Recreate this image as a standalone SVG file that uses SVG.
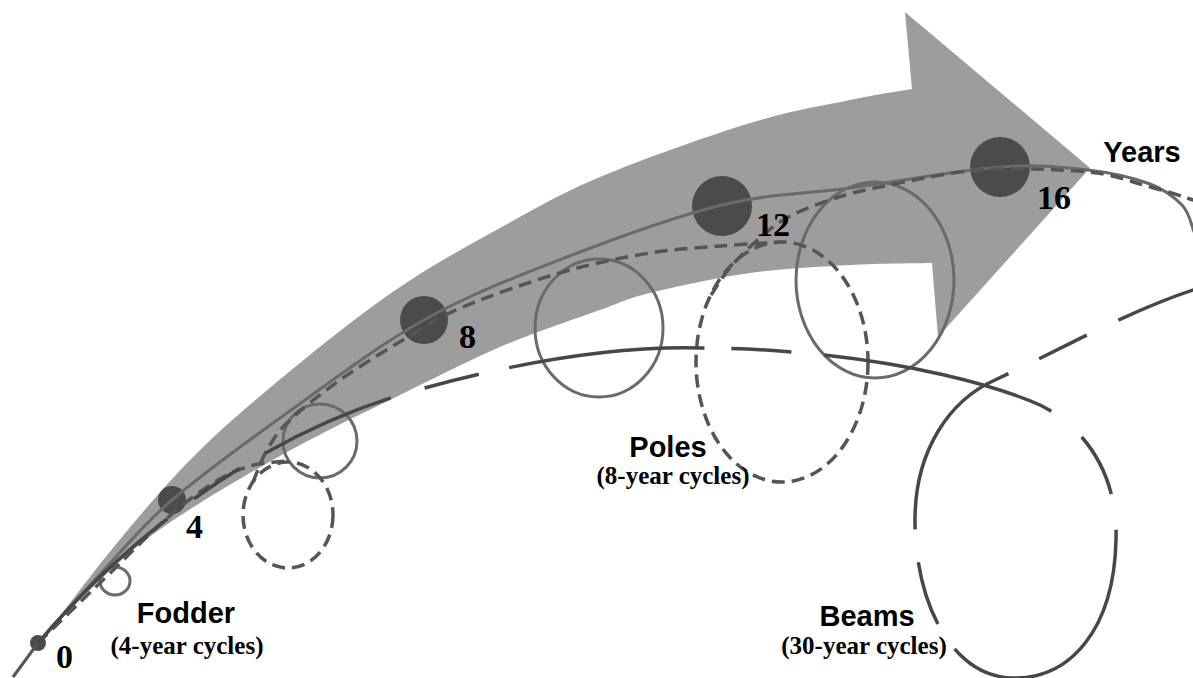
<svg xmlns="http://www.w3.org/2000/svg" width="1193" height="678" viewBox="0 0 1193 678">
<style>
.arrow{fill:#9d9d9d;stroke:none}
.dot{fill:#4b4b4b}
.fod{fill:none;stroke:#6a6a6a;stroke-width:3}
.pol{fill:none;stroke:#555;stroke-width:3.5;stroke-dasharray:13 7}
.bea{fill:none;stroke:#474747;stroke-width:3.5}
.num{font-family:"Liberation Serif","Times New Roman",serif;font-weight:bold;font-size:34px;fill:#000}
.lab{font-family:"Liberation Sans",Arial,sans-serif;font-weight:bold;font-size:29px;fill:#000;text-anchor:middle}
.sub{font-family:"Liberation Serif","Times New Roman",serif;font-weight:bold;font-size:25px;fill:#000;text-anchor:middle}
</style>
<rect width="1193" height="678" fill="#fff"/>
<g id="arrow">
<path class="arrow" d="M36,648 C49.5,630.5 89.7,576 117,543 C144.3,510 169.5,480 200,450 C230.5,420 266.7,390.2 300,363 C333.3,335.8 366.7,309.5 400,287 C433.3,264.5 466.7,246.3 500,228 C533.3,209.7 558.3,194.5 600,177 C641.7,159.5 708.3,135.8 750,123 C791.7,110.2 823,105.7 850,100 C877,94.3 901.7,90.8 912,89 L905,12 L1090,168 L938,337 L932,263 C918.3,263.3 880.3,263.3 850,265 C819.7,266.7 783.3,268.3 750,273 C716.7,277.7 675,286.8 650,293 C625,299.2 625,301 600,310 C575,319 533.3,332.8 500,347 C466.7,361.2 433.3,378.7 400,395 C366.7,411.3 333.3,427 300,445 C266.7,463 227.8,485.5 200,503 C172.2,520.5 154.7,532.2 133,550 C111.3,567.8 86.2,593.7 70,610 C53.8,626.3 41.7,641.7 36,648 Z"/>
</g>
<g id="dot-0"><circle class="dot" cx="38" cy="643" r="8"/></g>
<g id="dot-4"><circle class="dot" cx="172" cy="500" r="14"/></g>
<g id="dot-8"><circle class="dot" cx="424" cy="320" r="24"/></g>
<g id="dot-12"><circle class="dot" cx="722" cy="206" r="30"/></g>
<g id="dot-16"><circle class="dot" cx="1000" cy="167" r="30"/></g>
<g id="connectors">
<line x1="13" y1="677" x2="38" y2="643" stroke="#555" stroke-width="3"/>
<path class="fod" d="M38,643 C49,631 81.7,593.8 104,570 C126.3,546.2 141.5,526.2 172,500 C202.5,473.8 245,443 287,413 C329,383 377.3,346 424,320 C470.7,294 517.3,276.2 567,257 C616.7,237.8 674.8,216.5 722,205 C769.2,193.5 803.7,194.3 850,188 C896.3,181.7 960.3,170 1000,167 C1039.7,164 1063,167.2 1088,170 C1113,172.8 1134.3,178.2 1150,184 C1165.7,189.8 1174.8,197.7 1182,205 C1189.2,212.3 1191.2,224.2 1194,232"/>
<ellipse class="fod" cx="115" cy="581" rx="15" ry="14"/>
<ellipse class="fod" cx="320" cy="441" rx="37" ry="37"/>
<ellipse class="fod" cx="599" cy="328" rx="64" ry="69"/>
<ellipse class="fod" cx="875" cy="280" rx="79" ry="98"/>
<path class="pol" d="M38,643 C49.2,632.2 83.8,598.5 105,578 C126.2,557.5 147,535.8 165,520 C183,504.2 198.8,492 213,483 C227.2,474 237.5,469.7 250,466 C262.5,462.3 281.7,461.8 288,461"/>
<ellipse class="pol" cx="288" cy="515" rx="45" ry="53"/>
<path class="pol" d="M253,482 C255.5,476.3 261.8,458.3 268,448 C274.2,437.7 278,431.3 290,420 C302,408.7 321.2,393.3 340,380 C358.8,366.7 382.5,352.2 403,340 C423.5,327.8 436.3,318.3 463,307 C489.7,295.7 531.8,281 563,272 C594.2,263 623.8,257.3 650,253 C676.2,248.7 698,247.8 720,246 C742,244.2 771.7,242.7 782,242"/>
<ellipse class="pol" cx="782" cy="362" rx="86" ry="120"/>
<path class="pol" d="M711,295 C715,289.5 723.5,274.2 735,262 C746.5,249.8 764.2,232.3 780,222 C795.8,211.7 813.3,205.8 830,200 C846.7,194.2 855,192 880,187 C905,182 945.3,172.5 980,170 C1014.7,167.5 1060.2,169.3 1088,172 C1115.8,174.7 1129.2,181.3 1147,186 C1164.8,190.7 1187,197.7 1196,201"/>
<path class="bea" stroke-dasharray="180 33 55 30 137 35 56 31 197 27 60 33 235 40 65 36 270 30 65 33 195 34 53 35 300" d="M38,643 C120,545 250,440 400,395 C520,360 620,346 700,348 C820,348 960,370 1040,405 C1090,430 1118,480 1116,540 C1114,630 1070,678 1015,678 C950,678 915,600 915,520 C915,450 950,400 995,380 C1060,350 1130,310 1196,289"/>
</g>
<g id="labels">
<text class="num" x="56" y="668">0</text>
<text class="num" x="186" y="538">4</text>
<text class="num" x="459" y="348">8</text>
<text class="num" x="756" y="236">12</text>
<text class="num" x="1037" y="209">16</text>
<text class="lab" x="1142" y="162" font-size="28">Years</text>
<g id="fodder"><text class="lab" x="186" y="623">Fodder</text><text class="sub" x="187" y="654">(4-year cycles)</text></g>
<g id="poles"><text class="lab" x="668" y="457">Poles</text><text class="sub" x="673" y="484">(8-year cycles)</text></g>
<g id="beams"><text class="lab" x="867" y="626">Beams</text><text class="sub" x="864" y="654">(30-year cycles)</text></g>
</g>
</svg>
